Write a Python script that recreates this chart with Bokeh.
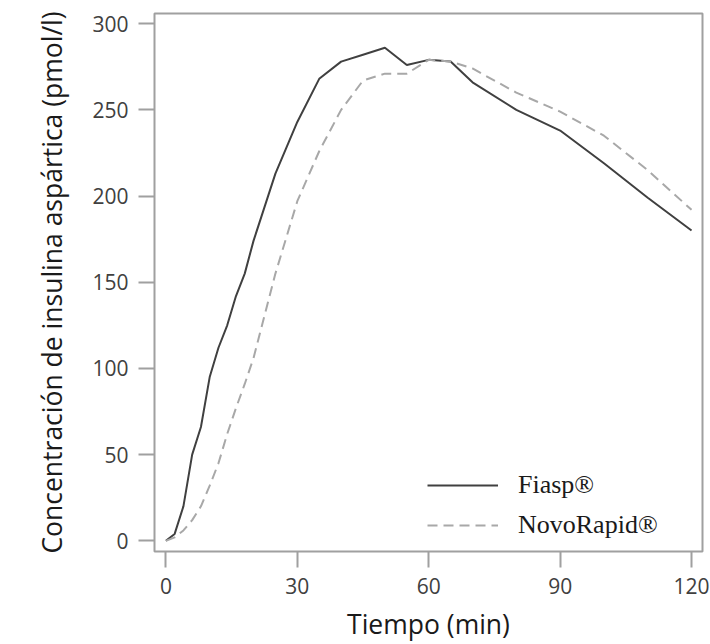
from bokeh.plotting import figure
from bokeh.models import Range1d, Legend, LegendItem, FixedTicker
from bokeh.embed import file_html
from bokeh.resources import INLINE

time_min = [0, 2, 4, 6, 8, 10, 12, 14, 16, 18, 20, 25, 30, 35, 40, 45, 50, 55, 60, 65, 70, 80, 90, 100, 110, 120]
fiasp = [0, 4, 20, 50, 66, 95, 112, 125, 142, 155, 174, 213, 243, 268, 278, 282, 286, 276, 279, 278, 266, 250, 238, 219, 199, 180]
novorapid = [0, 2, 6, 12, 20, 32, 45, 62, 77, 91, 106, 155, 197, 226, 250, 267, 271, 271, 279, 278, 274, 260, 249, 235, 215, 192]

x_ticks = [0, 30, 60, 90, 120]
y_ticks = [0, 50, 100, 150, 200, 250, 300]
series_names = ["Fiasp\u00ae", "NovoRapid\u00ae"]
x_title = "Tiempo (min)"
y_title = "Concentración de insulina aspártica (pmol/l)"

p = figure(width=710, height=644, output_backend="svg", toolbar_location=None,
           x_range=Range1d(-2.6, 122.5), y_range=Range1d(-6.2, 305.9),
           min_border_left=154, min_border_right=8, min_border_top=13, min_border_bottom=92)

p.grid.visible = False
p.outline_line_color = "#a0a0a0"
p.outline_line_width = 2

r1 = p.line(time_min, fiasp, line_color="#404040", line_width=2)
r2 = p.line(time_min, novorapid, line_color="#a8a8a8", line_width=2, line_dash="10 6")

for ax in (p.xaxis[0], p.yaxis[0]):
    ax.axis_line_color = None
    ax.major_tick_line_color = "#a0a0a0"
    ax.major_tick_line_width = 2
    ax.major_tick_out = 16
    ax.major_tick_in = 0
    ax.minor_tick_line_color = None
    ax.major_label_text_font = "Open Sans"
    ax.major_label_text_font_size = "21px"
    ax.major_label_text_color = "#404040"
    ax.axis_label_text_font = "Open Sans"
    ax.axis_label_text_font_size = "26.5px"
    ax.axis_label_text_font_style = "normal"
    ax.axis_label_text_color = "#1a1a1a"

p.xaxis.ticker = FixedTicker(ticks=x_ticks)
p.yaxis.ticker = FixedTicker(ticks=y_ticks)
p.xaxis.axis_label = x_title
p.yaxis.axis_label = y_title
p.xaxis.major_label_standoff = 10
p.xaxis.axis_label_standoff = 9
p.yaxis.major_label_standoff = 10
p.yaxis.axis_label_standoff = 19

legend = Legend(items=[LegendItem(label=series_names[0], renderers=[r1]),
                       LegendItem(label=series_names[1], renderers=[r2])],
                location=(273, 11), padding=0, margin=0, spacing=10,
                glyph_width=71, glyph_height=30, label_standoff=20,
                label_text_font="Liberation Serif", label_text_font_size="26px",
                label_text_color="#1a1a1a",
                border_line_color=None, background_fill_alpha=0)
p.add_layout(legend)

open("out.html", "w").write(file_html(p, INLINE))
